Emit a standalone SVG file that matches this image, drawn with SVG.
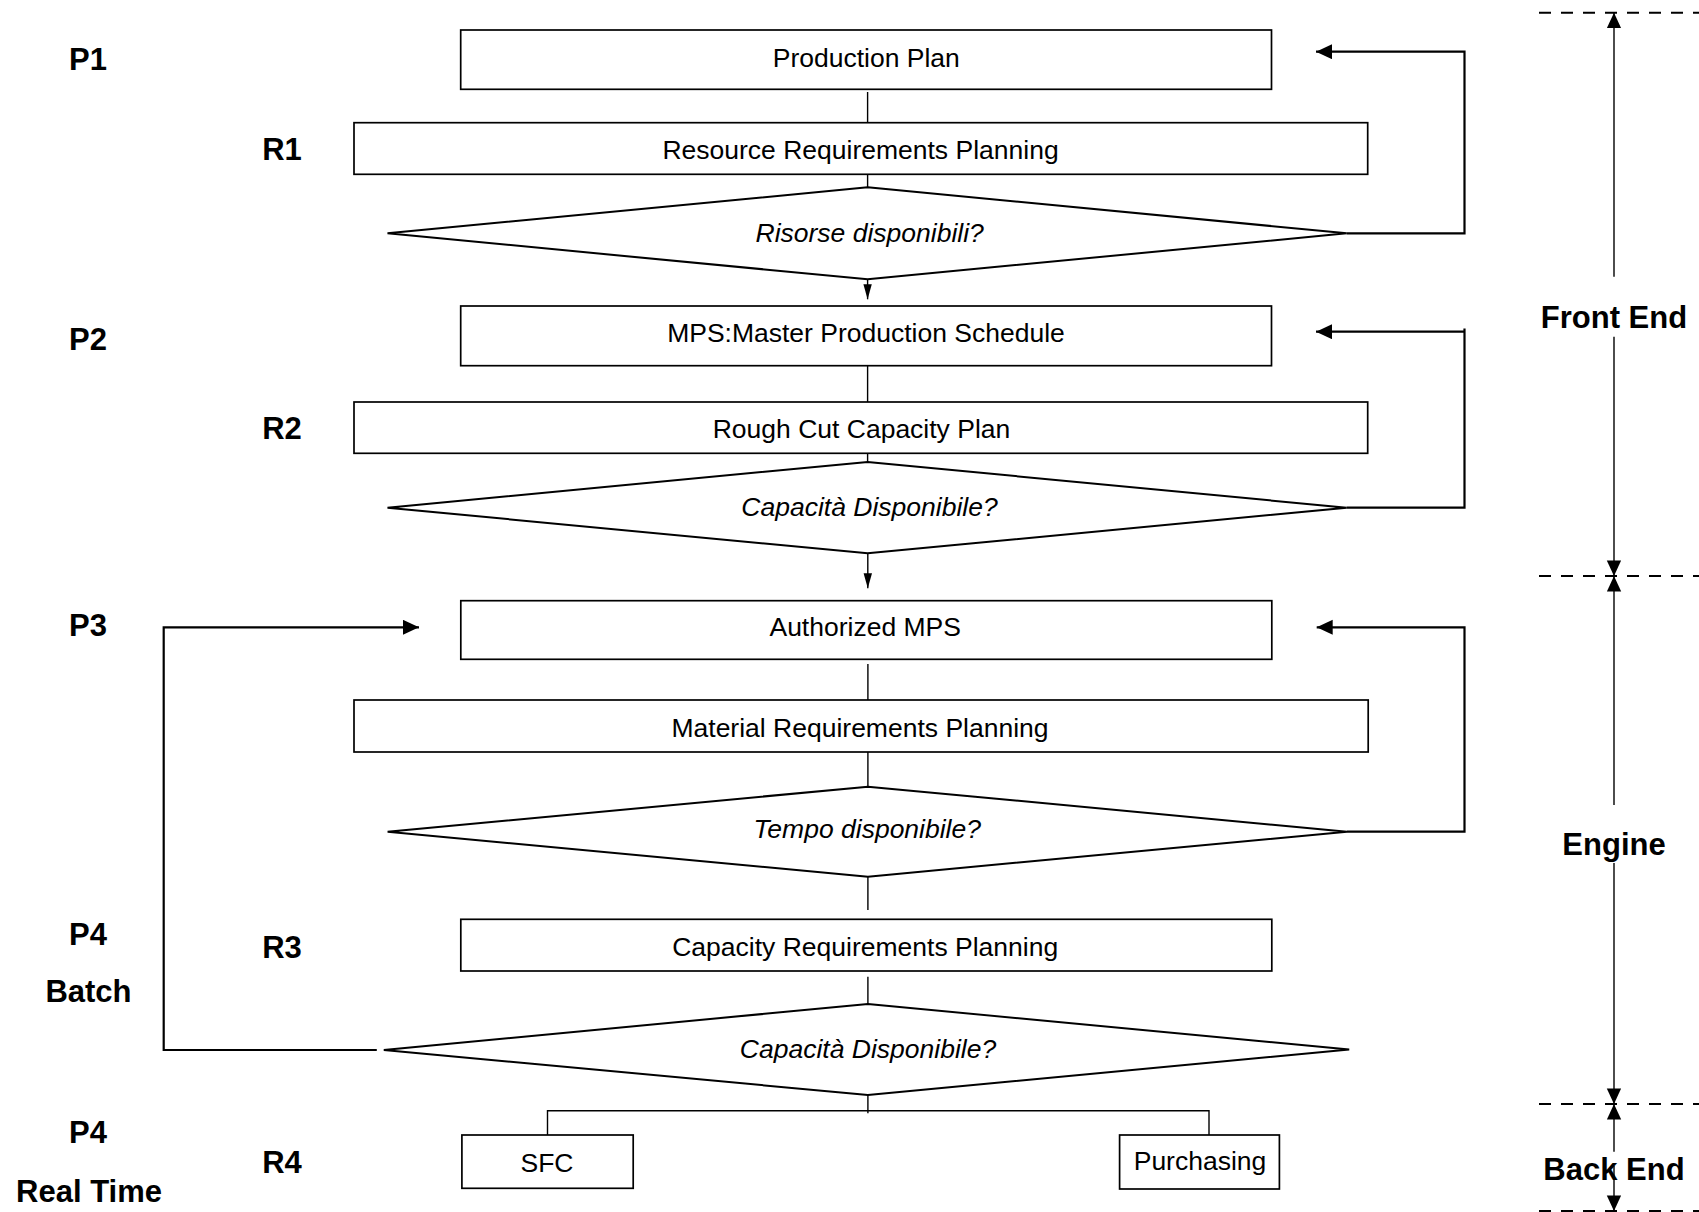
<svg xmlns="http://www.w3.org/2000/svg" width="1699" height="1212" viewBox="0 0 1699 1212">
<style>
.box{fill:#fff;stroke:#000;stroke-width:1.7}
.dia{fill:#fff;stroke:#000;stroke-width:2}
.t{font-family:"Liberation Sans",Arial,sans-serif;font-size:26.5px;fill:#000;text-anchor:middle}
.it{font-style:italic}
.lab{font-family:"Liberation Sans",Arial,sans-serif;font-size:31px;font-weight:bold;fill:#000;text-anchor:middle}
.ln{fill:none;stroke:#000;stroke-width:1.4}
.fb{fill:none;stroke:#000;stroke-width:2.2}
.dash{fill:none;stroke:#000;stroke-width:2;stroke-dasharray:12 10}
</style>
<defs>
<marker id="afb" markerUnits="userSpaceOnUse" markerWidth="17" markerHeight="16" refX="16" refY="7.5" orient="auto"><path d="M0,0 L16,7.5 L0,15 z" fill="#000"/></marker>
<marker id="aax" markerUnits="userSpaceOnUse" markerWidth="17" markerHeight="16" refX="15.6" refY="7.2" orient="auto"><path d="M0,0 L15.6,7.2 L0,14.4 z" fill="#000"/></marker>
<marker id="asm" markerUnits="userSpaceOnUse" markerWidth="16" markerHeight="10" refX="15" refY="4.2" orient="auto"><path d="M0,0 L15,4.2 L0,8.4 z" fill="#000"/></marker>
</defs>
<rect width="1699" height="1212" fill="#fff"/>

<g id="labels">
<text class="lab" x="88" y="70">P1</text>
<text class="lab" x="282" y="160">R1</text>
<text class="lab" x="88" y="350">P2</text>
<text class="lab" x="282" y="439">R2</text>
<text class="lab" x="88" y="636">P3</text>
<text class="lab" x="88" y="945">P4</text>
<text class="lab" x="88.5" y="1001.7">Batch</text>
<text class="lab" x="282" y="957.7">R3</text>
<text class="lab" x="88" y="1143.3">P4</text>
<text class="lab" x="282" y="1173.3">R4</text>
<text class="lab" x="89" y="1201.7">Real Time</text>
<text class="lab" x="1614" y="328.3">Front End</text>
<text class="lab" x="1614" y="855">Engine</text>
<text class="lab" x="1614" y="1180">Back End</text>
</g>

<g id="connectors">
<path class="ln" d="M867.6,92 V123"/>
<path class="ln" d="M867.6,174 V187.5"/>
<path class="ln" d="M867.6,279.3 V299.3" marker-end="url(#asm)"/>
<path class="ln" d="M867.6,365.7 V402"/>
<path class="ln" d="M867.6,453.3 V462.3"/>
<path class="ln" d="M867.8,553.3 V588.3" marker-end="url(#asm)"/>
<path class="ln" d="M867.9,664 V700.5"/>
<path class="ln" d="M867.9,752 V787"/>
<path class="ln" d="M867.9,876.7 V910"/>
<path class="ln" d="M867.9,976.7 V1004"/>
<path class="ln" d="M867.9,1095 V1113.3"/>
<path class="ln" d="M547.5,1135 V1110.7 H1209 V1135"/>
<path class="fb" d="M1346.7,233.3 H1464.5 V51.7 H1316" marker-end="url(#afb)"/>
<path class="fb" d="M1346.7,507.7 H1464.5 V328.5"/>
<path class="fb" d="M1464.5,331.7 H1316" marker-end="url(#afb)"/>
<path class="fb" d="M1347,831.7 H1464.5 V627.3 H1316.7" marker-end="url(#afb)"/>
<path class="fb" d="M376.8,1050 H163.7 V627.3 H419" marker-end="url(#afb)"/>
</g>

<g id="scale">
<path class="dash" d="M1539,12.7 H1699"/>
<path class="dash" d="M1539,576 H1699"/>
<path class="dash" d="M1539,1104 H1699"/>
<path class="dash" d="M1539,1211 H1699"/>
<path class="ln" d="M1614,276.7 V12.7" marker-end="url(#aax)"/>
<path class="ln" d="M1614,336.7 V576" marker-end="url(#aax)"/>
<path class="ln" d="M1614,805 V576" marker-end="url(#aax)"/>
<path class="ln" d="M1614,863 V1104" marker-end="url(#aax)"/>
<path class="ln" d="M1614,1151.7 V1104" marker-end="url(#aax)"/>
<path class="ln" d="M1614,1166 V1211" marker-end="url(#aax)"/>
</g>

<g id="n-production-plan">
<rect class="box" x="460.7" y="30" width="810.8" height="59.3"/>
<text class="t" x="866.3" y="66.7">Production Plan</text>
</g>
<g id="n-rrp">
<rect class="box" x="354" y="122.7" width="1013.7" height="51.6"/>
<text class="t" x="860.5" y="159.3">Resource Requirements Planning</text>
</g>
<g id="n-d1">
<polygon class="dia" points="867.6,187.3 1346.7,233.3 867.6,279.3 387.5,233.3"/>
<text class="t it" x="869.7" y="241.7">Risorse disponibili?</text>
</g>
<g id="n-mps">
<rect class="box" x="460.7" y="306" width="810.8" height="59.7"/>
<text class="t" x="866" y="342.3">MPS:Master Production Schedule</text>
</g>
<g id="n-rccp">
<rect class="box" x="354" y="402" width="1013.7" height="51.3"/>
<text class="t" x="861.5" y="438.3">Rough Cut Capacity Plan</text>
</g>
<g id="n-d2">
<polygon class="dia" points="867.6,462 1346.7,507.7 867.6,553.3 387.5,507.7"/>
<text class="t it" x="869.5" y="516">Capacità Disponibile?</text>
</g>
<g id="n-amps">
<rect class="box" x="460.8" y="600.7" width="811" height="58.6"/>
<text class="t" x="865.2" y="636">Authorized MPS</text>
</g>
<g id="n-mrp">
<rect class="box" x="354" y="700" width="1014.2" height="52"/>
<text class="t" x="860" y="736.7">Material Requirements Planning</text>
</g>
<g id="n-d3">
<polygon class="dia" points="867.9,786.7 1347,831.7 867.9,876.7 387.6,831.7"/>
<text class="t it" x="867.3" y="838.3">Tempo disponibile?</text>
</g>
<g id="n-crp">
<rect class="box" x="460.8" y="919.3" width="811" height="51.7"/>
<text class="t" x="865.2" y="956">Capacity Requirements Planning</text>
</g>
<g id="n-d4">
<polygon class="dia" points="867.9,1004 1349.2,1049.5 867.9,1095 383.8,1050"/>
<text class="t it" x="868" y="1058.3">Capacità Disponibile?</text>
</g>
<g id="n-sfc">
<rect class="box" x="461.9" y="1135" width="171.3" height="53.3"/>
<text class="t" x="547" y="1171.7">SFC</text>
</g>
<g id="n-purchasing">
<rect class="box" x="1119.6" y="1135" width="159.8" height="54"/>
<text class="t" x="1200" y="1170">Purchasing</text>
</g>
</svg>
